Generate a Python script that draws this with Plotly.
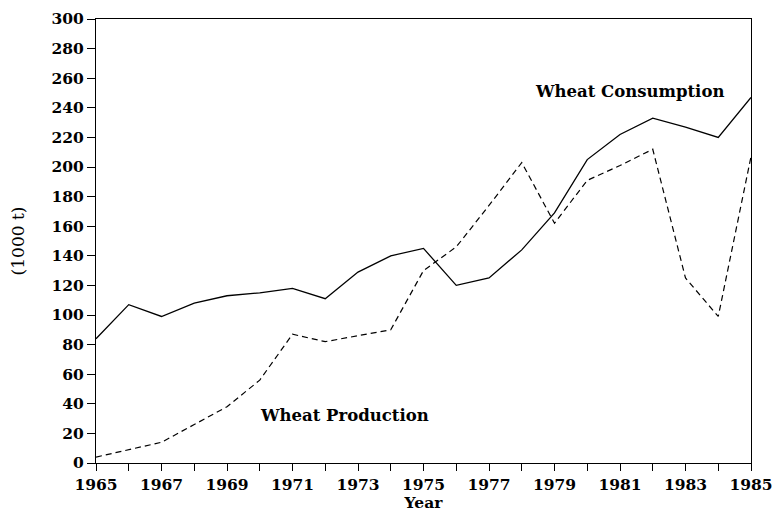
import plotly.graph_objects as go

years = list(range(1965, 1986))
consumption = [84, 107, 99, 108, 113, 115, 118, 111, 129, 140, 145, 120, 125, 144, 169, 205, 222, 233, 227, 220, 247]
production = [4, 9, 14, 26, 38, 56, 87, 82, 86, 90, 130, 146, 174, 203, 162, 191, 201, 212, 125, 99, 207]
x_tick_vals = list(range(1965, 1986, 2))
y_tick_vals = list(range(0, 301, 20))

FONT = "DejaVu Serif"

fig = go.Figure()
fig.add_trace(go.Scatter(x=years, y=consumption, mode="lines",
                         line=dict(color="black", width=1.3), name="Wheat Consumption",
                         showlegend=False))
fig.add_trace(go.Scatter(x=years, y=production, mode="lines",
                         line=dict(color="black", width=1.2, dash="6px,4px"), name="Wheat Production",
                         showlegend=False))

fig.add_annotation(x=1981.3, y=251, text="Wheat Consumption", showarrow=False,
                   font=dict(family=FONT, size=16.5, color="black", weight="bold"))
fig.add_annotation(x=1972.6, y=32, text="Wheat Production", showarrow=False,
                   font=dict(family=FONT, size=16.5, color="black", weight="bold"))

fig.update_layout(
    width=775, height=512,
    margin=dict(l=96, r=24, t=19, b=49),
    paper_bgcolor="white", plot_bgcolor="white",
    font=dict(family=FONT, size=15.5, color="black", weight="bold"),
)
fig.update_xaxes(range=[1965, 1985], tickvals=years,
                 ticktext=[str(y) if y in x_tick_vals else "" for y in years],
                 ticks="outside", ticklen=7, tickwidth=1, tickcolor="black",
                 showline=True, linecolor="black", linewidth=1.2, mirror=True,
                 showgrid=False, zeroline=False, automargin=False,
                 title=dict(text="Year", standoff=0, font=dict(family=FONT, size=15.5, weight="bold")))
fig.update_yaxes(range=[0, 300], tickvals=y_tick_vals,
                 ticks="outside", ticklen=8, tickwidth=1, tickcolor="black",
                 showline=True, linecolor="black", linewidth=1.2, mirror=True,
                 showgrid=False, zeroline=False, automargin=False,
                 title=dict(text="(1000 t)", standoff=22, font=dict(family=FONT, size=17, weight="normal")))

fig.write_html(
    "out.html",
    config={"displayModeBar": False},
    post_script="document.body.style.margin='0';document.body.style.overflow='hidden';"
                "document.documentElement.style.overflow='hidden';",
)
